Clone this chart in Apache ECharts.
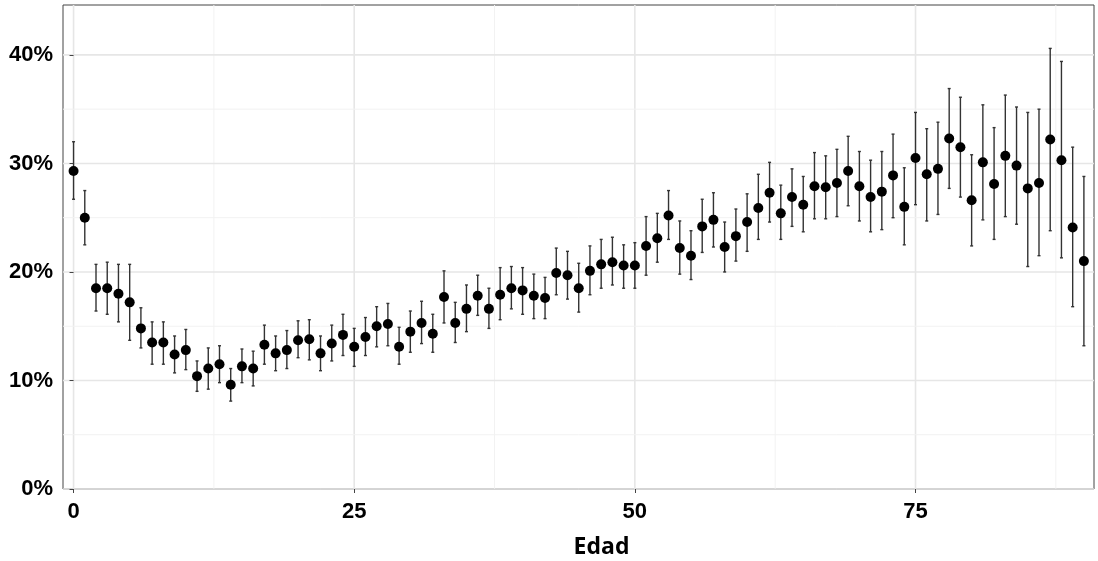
<!DOCTYPE html>
<html>
<head>
<meta charset="utf-8">
<script src="https://cdn.jsdelivr.net/npm/echarts@6/dist/echarts.min.js"></script>
<style>
html,body{margin:0;padding:0;background:#fff;}
#chart{width:1098px;height:561px;}
</style>
</head>
<body>
<div id="chart"></div>
<script>
// ---- data ----
const ages = [0,1,2,3,4,5,6,7,8,9,10,11,12,13,14,15,16,17,18,19,20,21,22,23,24,25,26,27,28,29,30,31,32,33,34,35,36,37,38,39,40,41,42,43,44,45,46,47,48,49,50,51,52,53,54,55,56,57,58,59,60,61,62,63,64,65,66,67,68,69,70,71,72,73,74,75,76,77,78,79,80,81,82,83,84,85,86,87,88,89,90];
const rate = [29.3,25.0,18.5,18.5,18.0,17.2,14.8,13.5,13.5,12.4,12.8,10.4,11.1,11.5,9.6,11.3,11.1,13.3,12.5,12.8,13.7,13.8,12.5,13.4,14.2,13.1,14.0,15.0,15.2,13.1,14.5,15.3,14.3,17.7,15.3,16.6,17.8,16.6,17.9,18.5,18.3,17.8,17.6,19.9,19.7,18.5,20.1,20.7,20.9,20.6,20.6,22.4,23.1,25.2,22.2,21.5,24.2,24.8,22.3,23.3,24.6,25.9,27.3,25.4,26.9,26.2,27.9,27.8,28.2,29.3,27.9,26.9,27.4,28.9,26.0,30.5,29.0,29.5,32.3,31.5,26.6,30.1,28.1,30.7,29.8,27.7,28.2,32.2,30.3,24.1,21.0];
const low = [26.7,22.5,16.4,16.1,15.4,13.7,13.0,11.5,11.5,10.7,11.0,9.0,9.2,9.8,8.1,9.8,9.5,11.5,10.9,11.1,12.1,11.9,10.9,11.8,12.3,11.3,12.3,13.1,13.2,11.5,12.6,13.4,12.6,15.3,13.5,14.5,16.0,14.8,15.6,16.6,16.1,15.7,15.7,17.9,17.5,16.3,17.9,18.5,18.8,18.5,18.5,19.7,20.9,23.0,19.8,19.3,21.8,22.3,20.0,21.0,21.9,23.0,24.6,23.0,24.2,23.7,24.9,24.9,25.1,26.1,24.7,23.7,23.9,25.0,22.5,26.2,24.7,25.3,27.7,26.9,22.4,24.8,23.0,25.1,24.4,20.5,21.5,23.8,21.3,16.8,13.2];
const high = [32.0,27.5,20.7,20.9,20.7,20.7,16.7,15.4,15.4,14.1,14.7,11.8,13.0,13.2,11.1,12.9,12.7,15.1,14.1,14.6,15.5,15.6,14.1,15.1,16.1,14.8,15.8,16.8,17.1,14.9,16.4,17.3,16.1,20.1,17.2,18.8,19.7,18.5,20.4,20.5,20.4,19.8,19.5,22.2,21.9,20.8,22.4,23.0,23.2,22.5,22.7,25.1,25.4,27.5,24.7,23.8,26.7,27.3,24.6,25.8,27.2,29.0,30.1,28.0,29.5,28.8,31.0,30.7,31.3,32.5,31.1,30.3,31.1,32.7,29.6,34.7,33.2,33.8,36.9,36.1,30.8,35.4,33.3,36.3,35.2,34.7,35.0,40.6,39.4,31.5,28.8];

const xTicks = [0,25,50,75];
const xMinorGrid = [12.5,37.5,62.5,87.5];
const yTicks = [0,10,20,30,40];
const yMinorGrid = [5,15,25,35];
const xTitle = 'Edad';

// ---- build ----
// gridline items: [x, y, isMajor, isHorizontal]
const gridData = [];
xTicks.forEach(v => gridData.push([v, 0, 1, 0]));
xMinorGrid.forEach(v => gridData.push([v, 0, 0, 0]));
yTicks.forEach(v => gridData.push([0, v, 1, 1]));
yMinorGrid.forEach(v => gridData.push([0, v, 0, 1]));

const pts = ages.map((a, i) => [a, rate[i]]);
const bars = ages.map((a, i) => [a, low[i], high[i]]);

const chart = echarts.init(document.getElementById('chart'), null, {renderer: 'canvas'});
const labelFont = {fontFamily: 'Liberation Sans', fontWeight: 'bold', fontSize: 22, color: '#000'};

chart.setOption({
  animation: false,
  backgroundColor: '#fff',
  grid: {left: 63, right: 4, top: 5, bottom: 72, show: true, borderColor: '#444', borderWidth: 1, backgroundColor: 'transparent', containLabel: false, outerBoundsMode: 'none'},
  xAxis: {
    type: 'value', min: -0.94, max: 90.9,
    splitLine: {show: false},
    axisLine: {show: false},
    axisTick: {show: true, length: 4, lineStyle: {color: '#444', width: 1}, customValues: xTicks},
    axisLabel: Object.assign({margin: 12, customValues: xTicks}, labelFont),
    name: xTitle, nameLocation: 'middle', nameGap: 47,
    nameTextStyle: {fontFamily: 'Open Sans', fontWeight: 'bold', fontSize: 23, color: '#000', padding: [0, 0, 0, 46]}
  },
  yAxis: {
    type: 'value', min: 0, max: 44.6,
    splitLine: {show: false},
    axisLine: {show: false},
    axisTick: {show: true, length: 4, lineStyle: {color: '#444', width: 1}, customValues: yTicks},
    axisLabel: Object.assign({margin: 10, customValues: yTicks, formatter: '{value}%', padding: [4, 0, 0, 0]}, labelFont)
  },
  series: [
    {
      type: 'custom', silent: true, z: 0,
      data: gridData,
      dimensions: ['gx', 'gy', 'major', 'horiz'],
      encode: {x: 0, y: 1},
      renderItem: function (params, api) {
        const cs = params.coordSys;
        const isH = api.value(3) === 1;
        const major = api.value(2) === 1;
        const style = {stroke: major ? '#e6e6e6' : '#f2f2f2', lineWidth: major ? 1.6 : 1};
        if (isH) {
          const py = api.coord([0, api.value(1)])[1];
          return {type: 'line', shape: {x1: cs.x, y1: py, x2: cs.x + cs.width, y2: py}, style: style};
        }
        const px = api.coord([api.value(0), 0])[0];
        return {type: 'line', shape: {x1: px, y1: cs.y, x2: px, y2: cs.y + cs.height}, style: style};
      }
    },
    {
      type: 'custom', silent: true, z: 2,
      data: bars,
      encode: {x: 0, y: [1, 2]},
      renderItem: function (params, api) {
        const x = api.value(0);
        const pLo = api.coord([x, api.value(1)]);
        const pHi = api.coord([x, api.value(2)]);
        const st = {stroke: '#333', lineWidth: 1.4};
        return {type: 'group', children: [
          {type: 'line', shape: {x1: pHi[0], y1: pHi[1], x2: pLo[0], y2: pLo[1]}, style: st},
          {type: 'line', shape: {x1: pHi[0] - 1.5, y1: pHi[1], x2: pHi[0] + 1.5, y2: pHi[1]}, style: st},
          {type: 'line', shape: {x1: pLo[0] - 1.5, y1: pLo[1], x2: pLo[0] + 1.5, y2: pLo[1]}, style: st}
        ]};
      }
    },
    {
      type: 'scatter', z: 3, silent: true,
      data: pts, symbol: 'circle', symbolSize: 10,
      itemStyle: {color: '#000', opacity: 1}
    }
  ]
});
</script>
</body>
</html>
